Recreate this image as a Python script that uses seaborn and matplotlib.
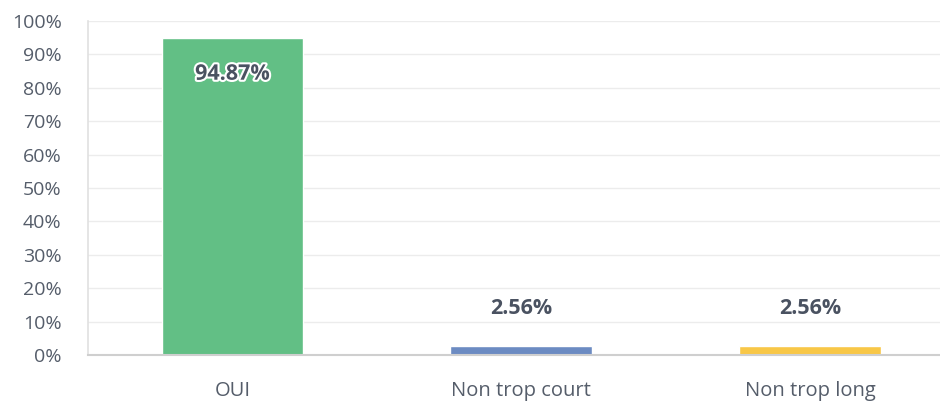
import matplotlib
matplotlib.use("Agg")
import matplotlib.pyplot as plt
import matplotlib.patheffects as pe
import seaborn as sns
import pandas as pd

categories = ["OUI", "Non trop court", "Non trop long"]
values = [94.87, 2.56, 2.56]
labels = ["94.87%", "2.56%", "2.56%"]
colors = ["#62BF85", "#6C8BC2", "#F8C747"]
yticks = [0, 10, 20, 30, 40, 50, 60, 70, 80, 90, 100]

sns.set_theme(style="white")
plt.rcParams['font.family'] = ['Open Sans', 'DejaVu Sans']

df = pd.DataFrame({"cat": categories, "val": values})

fig = plt.figure(figsize=(9.4, 4.05), dpi=100)
ax = fig.add_axes([0.0936, 0.1235, 0.9064, 0.8247])
sns.barplot(data=df, x="cat", y="val", hue="cat", palette=colors, width=0.49,
            legend=False, ax=ax, saturation=1)

ax.set_ylim(0, 100)
ax.set_xlim(-0.5, 2.45)
ax.set_yticks(yticks)
ax.set_yticklabels([f"{t}%" for t in yticks])
ax.set_xlabel("")
ax.set_ylabel("")
ax.yaxis.grid(True, color="#ececec", linewidth=1)
ax.set_axisbelow(True)
for s in ["top", "right"]:
    ax.spines[s].set_visible(False)
ax.spines["left"].set_color("#e0e0e0")
ax.spines["bottom"].set_color("#cfcfcf")
ax.spines["left"].set_linewidth(1.2)
ax.spines["bottom"].set_linewidth(1.5)
ax.tick_params(axis="y", length=0, labelsize=14, labelcolor="#555d6a", pad=19)
ax.tick_params(axis="x", length=0, labelsize=14.5, labelcolor="#555d6a", pad=19)

text_color = "#4a5261"
for i, (v, lab) in enumerate(zip(values, labels)):
    if v > 50:
        ax.annotate(lab, (i, v), xytext=(0, -26), textcoords="offset points",
                    ha="center", va="center", fontsize=15.5, fontweight="bold",
                    color=text_color,
                    path_effects=[pe.withStroke(linewidth=3, foreground="white")])
    else:
        ax.annotate(lab, (i, v), xytext=(0, 27), textcoords="offset points",
                    ha="center", va="center", fontsize=15.5, fontweight="bold",
                    color=text_color)

fig.savefig("out.png", dpi=100)
